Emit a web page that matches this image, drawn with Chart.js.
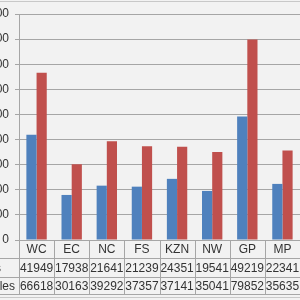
<!DOCTYPE html>
<html>
<head>
<meta charset="utf-8">
<script src="https://cdn.jsdelivr.net/npm/chart.js@4.4.1/dist/chart.umd.min.js"></script>
<style>
  html, body { margin: 0; padding: 0; background: #f2f2f2; overflow: hidden; }
  #wrap { position: relative; width: 300px; height: 300px; overflow: hidden; }
  #myChart { position: absolute; left: -40px; top: 0; }
</style>
</head>
<body>
<div id="wrap"><canvas id="myChart" width="340" height="300"></canvas></div>
<script>
var categories = ["WC", "EC", "NC", "FS", "KZN", "NW", "GP", "MP"];
var seriesNames = ["Males", "Females"];
var males = [41949, 17938, 21641, 21239, 24351, 19541, 49219, 22341];
var females = [66618, 30163, 39292, 37357, 37141, 35041, 79852, 35635];
var barColors = ["#4f81bd", "#c0504d"];

var lineColor = "#a6a6a6";
var textColor = "#333333";

// draws the data table under the plot, plus the outer border lines
var tablePlugin = {
    id: "dataTable",
    afterDraw: function (chart) {
        var ctx = chart.ctx;
        var x = chart.scales.x;
        var area = chart.chartArea;
        var left = area.left;
        var right = chart.width;
        var step = (area.right - area.left) / categories.length;
        var rowTops = [area.bottom, area.bottom + 17.5, area.bottom + 37, area.bottom + 54];
        var rows = [males, females];

        ctx.save();
        ctx.strokeStyle = lineColor;
        ctx.lineWidth = 1;

        // horizontal lines
        ctx.beginPath();
        for (var r = 1; r < rowTops.length; r++) {
            var y = Math.round(rowTops[r]) + 0.5;
            ctx.moveTo(0, y);
            ctx.lineTo(right, y);
        }
        // vertical lines
        for (var i = 0; i <= categories.length; i++) {
            var vx = Math.round(left + i * step) + 0.5;
            ctx.moveTo(vx, area.bottom);
            ctx.lineTo(vx, rowTops[3]);
        }
        ctx.stroke();

        // outer border lines
        ctx.strokeStyle = "#c8c8c8";
        ctx.beginPath();
        ctx.moveTo(0, 1.5);
        ctx.lineTo(right, 1.5);
        ctx.moveTo(0, 297.5);
        ctx.lineTo(right, 297.5);
        ctx.stroke();

        ctx.fillStyle = textColor;
        ctx.font = "12px 'Liberation Sans', Arial, sans-serif";
        ctx.textAlign = "center";
        ctx.textBaseline = "middle";
        for (var c = 0; c < categories.length; c++) {
            var cx = x.getPixelForValue(c);
            ctx.fillText(categories[c], cx, (rowTops[0] + rowTops[1]) / 2 + 1);
            for (var s = 0; s < rows.length; s++) {
                ctx.fillText(String(rows[s][c]), cx, (rowTops[s + 1] + rowTops[s + 2]) / 2 + 1);
            }
        }

        // row labels with legend keys (mostly off the left edge)
        ctx.textAlign = "left";
        for (var k = 0; k < seriesNames.length; k++) {
            var ty = (rowTops[k + 1] + rowTops[k + 2]) / 2 + 1;
            ctx.fillStyle = barColors[k];
            ctx.fillRect(0, ty - 3, 6, 6);
            ctx.fillStyle = textColor;
            ctx.fillText(seriesNames[k], 9, ty);
        }
        ctx.restore();
    }
};

new Chart("myChart", {
    type: "bar",
    data: {
        labels: categories,
        datasets: [{
            label: seriesNames[0],
            backgroundColor: barColors[0],
            data: males
        }, {
            label: seriesNames[1],
            backgroundColor: barColors[1],
            data: females
        }]
    },
    options: {
        responsive: false,
        animation: false,
        devicePixelRatio: 1,
        layout: { padding: { top: 14, right: 0, bottom: 0, left: 0 } },
        datasets: {
            bar: { categoryPercentage: 0.58, barPercentage: 1.0 }
        },
        plugins: {
            legend: { display: false },
            title: { display: false },
            tooltip: { enabled: false }
        },
        scales: {
            x: {
                grid: { display: false },
                border: { display: true, color: lineColor },
                ticks: { display: false },
                afterFit: function (scale) { scale.height = 60; }
            },
            y: {
                min: 0,
                max: 90000,
                ticks: {
                    stepSize: 10000,
                    padding: 6,
                    color: textColor,
                    font: { family: "'Liberation Sans', Arial, sans-serif", size: 12 }
                },
                grid: { color: lineColor, tickLength: 4 },
                border: { display: true, color: lineColor },
                afterFit: function (scale) { scale.width = 59; }
            }
        }
    },
    plugins: [tablePlugin]
});
</script>
</body>
</html>
